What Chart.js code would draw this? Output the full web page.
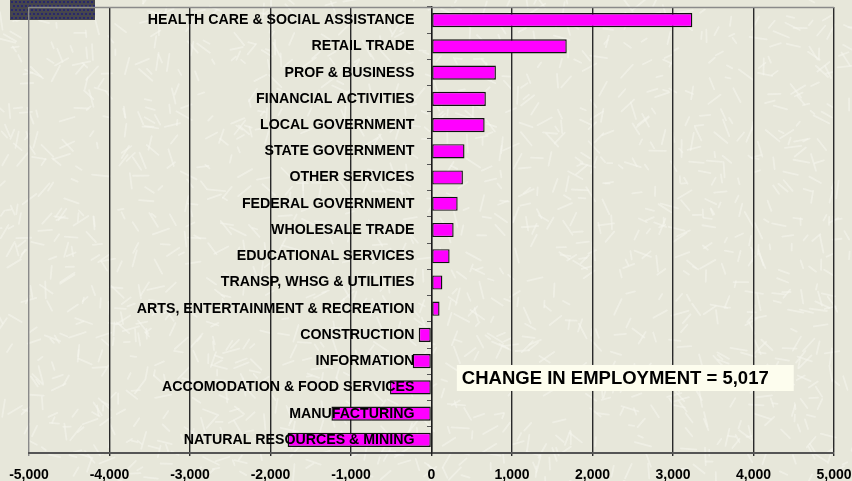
<!DOCTYPE html>
<html>
<head>
<meta charset="utf-8">
<script src="https://cdn.jsdelivr.net/npm/chart.js@4.4.0/dist/chart.umd.min.js"></script>
<style>
html, body { margin: 0; padding: 0; background: #E8E8DC; }
</style>
</head>
<body>
<canvas id="myChart" width="852" height="481"></canvas>
<script>
// sectors, top to bottom
const sectors = [
    'HEALTH CARE & SOCIAL ASSISTANCE',
    'RETAIL TRADE',
    'PROF & BUSINESS ',
    'FINANCIAL ACTIVITIES',
    'LOCAL GOVERNMENT',
    'STATE GOVERNMENT',
    'OTHER SERVICES',
    'FEDERAL GOVERNMENT',
    'WHOLESALE TRADE ',
    'EDUCATIONAL SERVICES ',
    'TRANSP, WHSG & UTILITIES',
    'ARTS, ENTERTAINMENT & RECREATION',
    'CONSTRUCTION',
    'INFORMATION',
    'ACCOMODATION & FOOD SERVICES',
    'MANUFACTURING',
    'NATURAL RESOURCES & MINING'
];
// change in employment per sector
const changes = [3240, 1680, 800, 675, 660, 410, 390, 325, 275, 225, 135, 100, -158, -233, -515, -1243, -1787];
const axisMin = -5000;
const axisMax = 5000;
const axisStep = 1000;
const totalText = 'CHANGE IN EMPLOYMENT = 5,017';

const FONT = '"Liberation Sans", Arial, sans-serif';

// light streaky paper texture, fixed seed so it is the same every time
function paper(c, w, h) {
    c.fillStyle = '#E7E7DA';
    c.fillRect(0, 0, w, h);
    let s = 12345;
    const rnd = () => { s = (s * 1103515245 + 12345) % 2147483648; return s / 2147483648; };
    c.strokeStyle = 'rgba(246,246,238,0.55)';
    c.lineWidth = 1.8;
    c.lineCap = 'round';
    for (let i = 0; i < 1500; i++) {
        const x = rnd() * w, y = rnd() * h;
        const a = rnd() * Math.PI * 2, l = 5 + rnd() * 13;
        c.beginPath();
        c.moveTo(x, y);
        c.lineTo(x + Math.cos(a) * l, y + Math.sin(a) * l);
        c.stroke();
    }
}

const extras = {
    id: 'extras',
    beforeDraw(chart) {
        const c = chart.ctx;
        c.save();
        paper(c, chart.width, chart.height);
        // dotted dark block top left
        c.fillStyle = '#46464c';
        c.fillRect(10, 0, 85, 20);
        c.fillStyle = '#28286c';
        for (let y = 1; y < 20; y += 4) {
            for (let x = 11 + (y % 8 === 1 ? 0 : 2); x < 94; x += 4) {
                c.fillRect(x, y, 2, 2);
            }
        }
        c.restore();
    },
    afterDatasetsDraw(chart) {
        // category names sit just left of the zero line, over the bars
        const c = chart.ctx;
        const xs = chart.scales.x;
        const ys = chart.scales.y;
        const x0 = xs.getPixelForValue(0) - 17;
        c.save();
        c.fillStyle = '#000';
        c.font = 'bold 14.2px ' + FONT;
        c.textAlign = 'right';
        c.textBaseline = 'middle';
        sectors.forEach((s, i) => c.fillText(s.trim(), x0, ys.getPixelForValue(i)));
        c.restore();
    },
    afterDraw(chart) {
        const c = chart.ctx;
        const a = chart.chartArea;
        const xs = chart.scales.x;
        const ys = chart.scales.y;
        c.save();
        c.strokeStyle = '#8a8a8a';
        c.lineWidth = 1.5;
        c.beginPath();
        c.moveTo(a.left, a.top + 0.5);
        c.lineTo(a.right, a.top + 0.5);
        c.stroke();
        // total box
        const x1 = xs.getPixelForValue(315);
        const x2 = xs.getPixelForValue(4500);
        const yc = ys.getPixelForValue(13.64);
        c.fillStyle = '#FDFDEE';
        c.fillRect(x1, yc - 13, x2 - x1, 26);
        c.fillStyle = '#000';
        c.font = 'bold 18.5px ' + FONT;
        c.textBaseline = 'middle';
        c.textAlign = 'left';
        c.fillText(totalText, x1 + 5, yc + 1);
        c.restore();
    }
};

const ctx = document.getElementById('myChart').getContext('2d');
const chart = new Chart(ctx, {
    type: 'bar',
    data: {
        labels: sectors,
        datasets: [{
            data: changes,
            backgroundColor: '#FF00FF',
            borderColor: '#111',
            borderWidth: 1.4,
            borderSkipped: false,
            barPercentage: 0.54,
            categoryPercentage: 1
        }]
    },
    options: {
        indexAxis: 'y',
        responsive: false,
        animation: false,
        devicePixelRatio: 1,
        layout: { padding: { left: 29, right: 18, top: 7, bottom: 0 } },
        plugins: {
            legend: { display: false },
            tooltip: { enabled: false }
        },
        scales: {
            x: {
                min: axisMin,
                max: axisMax,
                afterFit: scale => {
                    scale.height = 28;
                    scale.paddingLeft = 0;
                    scale.paddingRight = 0;
                },
                ticks: {
                    stepSize: axisStep,
                    color: '#000',
                    padding: 11,
                    font: { family: FONT, size: 14, weight: 'bold' },
                    callback: v => v.toLocaleString('en-US')
                },
                grid: {
                    color: c => c.tick && c.tick.value === axisMin ? '#8a8a8a' : '#2a2a2a',
                    lineWidth: 1.4,
                    drawTicks: true,
                    tickLength: 3
                },
                border: { color: '#555', width: 2 }
            },
            y: {
                position: { x: 0 },
                ticks: { display: false },
                grid: {
                    drawOnChartArea: false,
                    drawTicks: true,
                    tickLength: 4,
                    color: '#555'
                },
                border: { color: '#1a1a1a', width: 1.4 }
            }
        }
    },
    plugins: [extras]
});
</script>
</body>
</html>
